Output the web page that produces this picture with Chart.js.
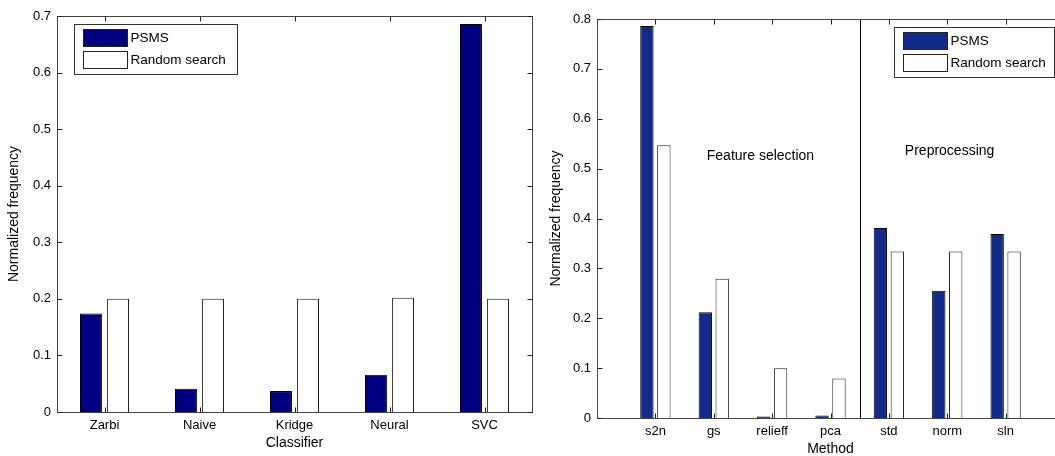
<!DOCTYPE html>
<html>
<head>
<meta charset="utf-8">
<script src="https://cdn.jsdelivr.net/npm/chart.js@4.4.1/dist/chart.umd.min.js"></script>
<style>
  html, body { margin: 0; padding: 0; background: #fff; overflow: hidden; width: 1055px; height: 456px; }
  #classifierChart { position: absolute; left: 0; top: 0; }
  #methodChart { position: absolute; left: 530px; top: 0; }
</style>
</head>
<body>
<canvas id="classifierChart" width="545" height="456"></canvas>
<canvas id="methodChart" width="550" height="462"></canvas>
<script>
// left panel: classifier choice
const classifiers = ["Zarbi", "Naive", "Kridge", "Neural", "SVC"];
const classifierPsms = [0.174, 0.041, 0.037, 0.066, 0.686];
const classifierRandom = [0.200, 0.200, 0.200, 0.202, 0.200];

// right panel: feature selection + preprocessing methods
const methods = ["s2n", "gs", "relieff", "pca", "std", "norm", "sln"];
const methodPsms = [0.786, 0.212, 0.003, 0.005, 0.381, 0.255, 0.369];
const methodRandom = [0.547, 0.279, 0.100, 0.079, 0.334, 0.334, 0.334];
const methodGroups = ["Feature selection", "Preprocessing"];

const seriesNames = ["PSMS", "Random search"];

const FONT = "'Liberation Sans', Arial, sans-serif";
Chart.defaults.font.family = FONT;
Chart.defaults.font.size = 13;
Chart.defaults.color = "#000";

// matlab-ish box: frame, inward ticks, boxed legend, text annotations
function matlabBox(cfg) {
  return {
    id: "matlabBox",
    afterDatasetsDraw(chart) {
      const { ctx, chartArea: a } = chart;
      const xs = chart.scales.x, ys = chart.scales.y;
      ctx.save();

      // group divider
      if (cfg.divider != null) {
        const px = Math.round(xs.getPixelForValue(cfg.divider)) + 0.5;
        ctx.strokeStyle = "#000";
        ctx.lineWidth = 1;
        ctx.beginPath();
        ctx.moveTo(px, a.top);
        ctx.lineTo(px, a.bottom);
        ctx.stroke();
      }

      // frame
      ctx.strokeStyle = "#444";
      ctx.lineWidth = 1;
      const L = Math.round(a.left) + 0.5, R = Math.round(a.right) + 0.5;
      const T = Math.round(a.top) + 0.5, B = Math.round(a.bottom) + 0.5;
      ctx.strokeRect(L, T, R - L, B - T);

      // ticks
      const tl = 5;
      ctx.strokeStyle = "#222";
      ctx.beginPath();
      ys.ticks.forEach((t, i) => {
        const py = Math.round(ys.getPixelForTick(i)) + 0.5;
        ctx.moveTo(L, py); ctx.lineTo(L + tl, py);
        ctx.moveTo(R, py); ctx.lineTo(R - tl, py);
      });
      xs.ticks.forEach((t, i) => {
        if (t.label === "") return;
        const px = Math.round(xs.getPixelForTick(i)) + 0.5;
        ctx.moveTo(px, B); ctx.lineTo(px, B - tl);
        ctx.moveTo(px, T); ctx.lineTo(px, T + tl);
      });
      ctx.stroke();

      // annotations
      ctx.fillStyle = "#000";
      ctx.font = "14px " + FONT;
      ctx.textAlign = "center";
      ctx.textBaseline = "middle";
      (cfg.notes || []).forEach(n => {
        ctx.fillText(n.text, xs.getPixelForValue(n.x), ys.getPixelForValue(n.y));
      });

      // legend
      const lg = cfg.legend;
      const bx = lg.anchor === "left" ? a.left + lg.dx : a.right - lg.dx - lg.w;
      const by = a.top + lg.dy;
      ctx.fillStyle = "#fff";
      ctx.fillRect(bx, by, lg.w, lg.h);
      ctx.strokeStyle = "#333";
      ctx.strokeRect(Math.round(bx) + 0.5, Math.round(by) + 0.5, lg.w, lg.h);
      ctx.font = "13.5px " + FONT;
      chart.data.datasets.forEach((ds, i) => {
        const sy = Math.round(by + 5 + i * 22) + 0.5;
        const sx = Math.round(bx + 9) + 0.5;
        ctx.fillStyle = ds.backgroundColor;
        ctx.fillRect(sx, sy, 44, 17);
        ctx.strokeStyle = "#222";
        ctx.strokeRect(sx, sy, 44, 17);
        ctx.fillStyle = "#000";
        ctx.textAlign = "left";
        ctx.fillText(ds.label, sx + 47, sy + 9);
      });
      ctx.restore();
    }
  };
}

function yAxis(max, width, titlePad) {
  return {
    min: 0, max: max,
    ticks: { stepSize: 0.1, padding: 6 },
    grid: { display: false, drawTicks: false },
    border: { display: false },
    title: { display: true, text: "Normalized frequency", font: { size: 14 }, padding: { top: titlePad, bottom: 0 } },
    afterFit(s) { s.width = width; }
  };
}

new Chart(document.getElementById("classifierChart"), {
  type: "bar",
  data: {
    labels: classifiers,
    datasets: [
      { label: seriesNames[0], data: classifierPsms, backgroundColor: "#000080", borderColor: "#000", borderWidth: 1 },
      { label: seriesNames[1], data: classifierRandom, backgroundColor: "#ffffff", borderColor: "#222", borderWidth: 1 }
    ]
  },
  options: {
    responsive: false,
    animation: false,
    categoryPercentage: 0.57,
    barPercentage: 0.81,
    layout: { padding: { left: 0, top: 16, right: 13, bottom: 0 } },
    plugins: { legend: { display: false }, tooltip: { enabled: false } },
    scales: {
      x: {
        grid: { display: false, drawTicks: false },
        border: { display: false },
        ticks: { padding: 6, maxRotation: 0, autoSkip: false },
        title: { display: true, text: "Classifier", font: { size: 14 }, padding: { top: 0, bottom: 4 } },
        afterFit(s) { s.height = 44; }
      },
      y: yAxis(0.7, 57, 6)
    }
  },
  plugins: [matlabBox({
    legend: { anchor: "left", dx: 17, dy: 8, w: 163, h: 50 }
  })]
});

new Chart(document.getElementById("methodChart"), {
  type: "bar",
  data: {
    datasets: [
      { label: seriesNames[0], data: methods.map((m, i) => ({ x: i + 1, y: methodPsms[i] })), backgroundColor: "#142a8a", borderColor: "#000", borderWidth: 1 },
      { label: seriesNames[1], data: methods.map((m, i) => ({ x: i + 1, y: methodRandom[i] })), backgroundColor: "#ffffff", borderColor: "#222", borderWidth: 1 }
    ]
  },
  options: {
    responsive: false,
    animation: false,
    categoryPercentage: 0.58,
    barPercentage: 0.79,
    layout: { padding: { left: 0, top: 19, right: 16, bottom: 0 } },
    plugins: { legend: { display: false }, tooltip: { enabled: false } },
    scales: {
      x: {
        type: "linear",
        offset: false,
        min: 0, max: methods.length + 1,
        grid: { display: false, drawTicks: false },
        border: { display: false },
        ticks: {
          stepSize: 1, padding: 6, maxRotation: 0, autoSkip: false,
          callback: v => methods[v - 1] || ""
        },
        title: { display: true, text: "Method", font: { size: 14 }, padding: { top: 0, bottom: 4 } },
        afterFit(s) { s.height = 44; }
      },
      y: yAxis(0.8, 67, 18)
    }
  },
  plugins: [matlabBox({
    divider: 4.5,
    notes: [
      { text: methodGroups[0], x: 2.8, y: 0.526 },
      { text: methodGroups[1], x: 6.04, y: 0.536 }
    ],
    legend: { anchor: "right", dx: 10, dy: 8, w: 160, h: 50 }
  })]
});
</script>
</body>
</html>
